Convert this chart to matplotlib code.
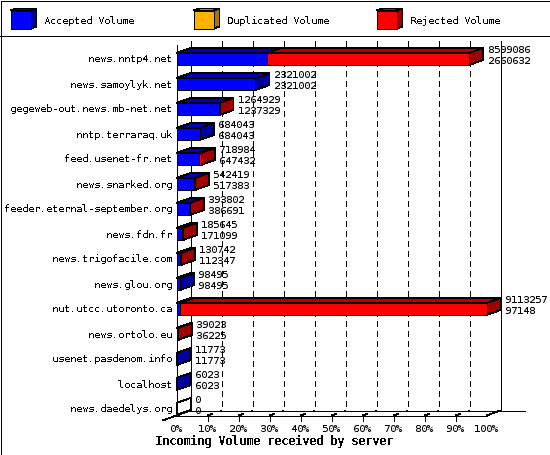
import matplotlib
matplotlib.use('Agg')
import matplotlib.pyplot as plt
from matplotlib.patches import Polygon

plt.rcParams['font.family'] = 'DejaVu Sans Mono'
plt.rcParams['text.antialiased'] = False
plt.rcParams['text.hinting'] = 'native'
plt.rcParams['text.hinting_factor'] = 1
plt.rcParams['lines.scale_dashes'] = False

servers = ['news.nntp4.net', 'news.samoylyk.net', 'gegeweb-out.news.mb-net.net',
           'nntp.terraraq.uk', 'feed.usenet-fr.net', 'news.snarked.org',
           'feeder.eternal-september.org', 'news.fdn.fr', 'news.trigofacile.com',
           'news.glou.org', 'nut.utcc.utoronto.ca', 'news.ortolo.eu',
           'usenet.pasdenom.info', 'localhost', 'news.daedelys.org']
total = [8599086, 2321002, 1264929, 684043, 718984, 542419, 393802, 185645,
         130742, 98495, 9113257, 39023, 11773, 6023, 0]
accepted = [2660632, 2321002, 1237329, 684043, 647432, 517383, 386691, 171099,
            112347, 98495, 97148, 36225, 11773, 6023, 0]
legend_names = ['Accepted Volume', 'Duplicated Volume', 'Rejected Volume']
ticks = [0, 10, 20, 30, 40, 50, 60, 70, 80, 90, 100]

W, H = 550, 455
BLACK = '#000000'
BLUE = ('#0000ff', '#0000b8', '#0000a0')
ORANGE = ('#ffb000', '#b88000', '#a87800')
RED = ('#ff0000', '#b80000', '#a00000')

fig = plt.figure(figsize=(W / 100, H / 100), dpi=100, facecolor='white')

# pixel layer for border and legend
bg = fig.add_axes([0, 0, 1, 1])
bg.set_xlim(0, W)
bg.set_ylim(H, 0)
bg.axis('off')

LW = 0.6


def pline(a, xs, ys, **kw):
    kw.setdefault('color', BLACK)
    kw.setdefault('lw', LW)
    a.plot(xs, ys, antialiased=False, solid_capstyle='butt', dash_capstyle='butt', clip_on=False, **kw)


def box(a, x0, x1, y0, y1, dx, dy, cols, z):
    # front, top and side of one 3d block
    faces = [
        ([(x0, y0), (x0 + dx, y0 - dy), (x1 + dx, y0 - dy), (x1, y0)], cols[1]),
        ([(x1, y0), (x1 + dx, y0 - dy), (x1 + dx, y1 - dy), (x1, y1)], cols[2]),
        ([(x0, y0), (x1, y0), (x1, y1), (x0, y1)], cols[0]),
    ]
    for pts, c in faces:
        a.add_patch(Polygon(pts, closed=True, facecolor=c if x1 > x0 else 'none',
                            edgecolor=BLACK, lw=LW,
                            antialiased=False, clip_on=False, zorder=z))


pline(bg, [0.5, W - 0.5, W - 0.5, 0.5, 0.5], [0.5, 0.5, H - 0.5, H - 0.5, 0.5])
pline(bg, [0, W], [35.5, 35.5])

for x, txt_x, name, cols in zip([10.5, 193.5, 376.5], [44, 227, 410], legend_names, [BLUE, ORANGE, RED]):
    box(bg, x, x + 20, 10.5, 28.5, 6, 2, cols, 3)
    bg.text(txt_x, 20.5, name, fontsize=7.2, va='center', ha='left')

bg.text(274, 442, 'Incoming Volume received by server', fontsize=8.4,
        fontweight='bold', ha='center', va='center')

# plot area, front plane 177..487 px, rows 25 px apart
ax = fig.add_axes([176.5 / W, 1 - 415.5 / H, 310 / W, 375 / H])
ax.patch.set_alpha(0)
ax.axis('off')
ax.set_xlim(0, 100)
ax.set_ylim((415.5 - 59) / 25, (40.5 - 59) / 25)

DX = 14 / 3.1
DY = 5 / 25
HALF = 6 / 25
max_total = max(total)

# back wall and floor
for t in ticks:
    style = dict(ls='-') if t in (0, 100) else dict(ls=(0, (3.6, 2.9)))
    pline(ax, [t + DX, t + DX], [(40.5 - 59) / 25, (410.5 - 59) / 25], zorder=1, **style)
    if t not in (0, 100):
        pline(ax, [t, t + DX], [(415.5 - 59) / 25, (410.5 - 59) / 25], zorder=1, ls=(0, (4.0, 6.0)))
        pline(ax, [t, t], [(415.5 - 59) / 25, (421 - 59) / 25], zorder=1)
    ax.text(t - 0.3, (428.5 - 59) / 25, '%d%%' % t, fontsize=7.2, ha='center', va='center', antialiased=True)

pline(ax, [0, 0], [(45 - 59) / 25, (415.5 - 59) / 25], zorder=2)
pline(ax, [0, 100], [(415.5 - 59) / 25] * 2, zorder=2)
pline(ax, [DX, 100 + DX + 8], [(410.5 - 59) / 25] * 2, zorder=2)
pline(ax, [-DX, DX], [(420.5 - 59) / 25, (410.5 - 59) / 25], zorder=2)
pline(ax, [100, 100 + DX], [(415.5 - 59) / 25, (410.5 - 59) / 25], zorder=2)

for i, name in enumerate(servers):
    acc = accepted[i] / max_total * 100
    tot = total[i] / max_total * 100
    box(ax, 0, acc, i - HALF, i + HALF, DX, DY, BLUE, 4)
    if tot > acc:
        box(ax, acc, tot, i - HALF, i + HALF, DX, DY, RED, 4)
    ax.text(-4.5 / 3.1, i + 0.5 / 25, name, fontsize=7.2, ha='right', va='center')
    lx = tot + DX + 4.5 / 3.1
    # numbers stay antialiased, the aliased digits get misread
    ax.text(lx, i - 9 / 25, str(total[i]), fontsize=7.2, ha='left', va='center', zorder=6, antialiased=True)
    ax.text(lx, i + 2 / 25, str(accepted[i]), fontsize=7.2, ha='left', va='center', zorder=6, antialiased=True)

fig.savefig('out.png', dpi=100, facecolor='white')
